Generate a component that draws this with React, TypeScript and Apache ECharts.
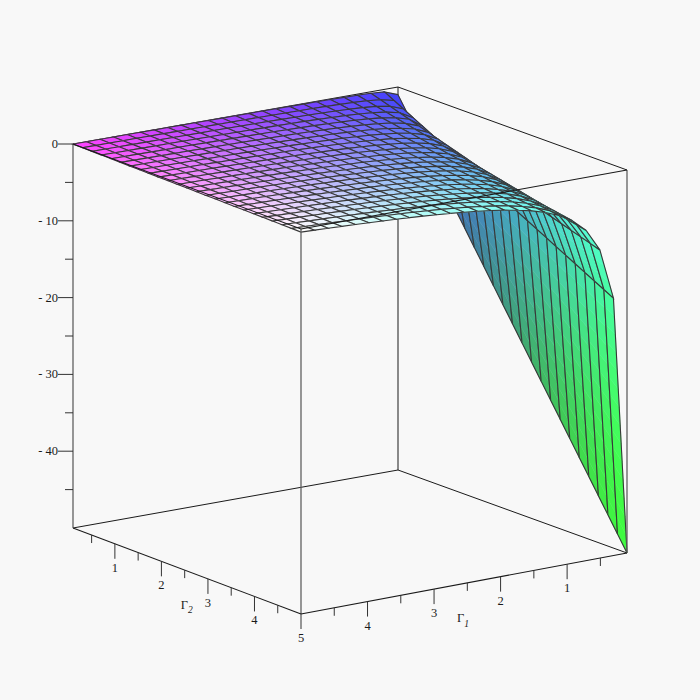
import React, { useEffect, useRef } from "react";
import * as echarts from "echarts";

// Axis parameter samples (both axes share the same mesh)
const gamma1Values = [0.1,0.304,0.508,0.712,0.917,1.121,1.325,1.529,1.733,1.938,2.142,2.346,2.55,2.754,2.958,3.163,3.367,3.571,3.775,3.979,4.183,4.388,4.592,4.796,5];
const gamma2Values = [0.1,0.304,0.508,0.712,0.917,1.121,1.325,1.529,1.733,1.938,2.142,2.346,2.55,2.754,2.958,3.163,3.367,3.571,3.775,3.979,4.183,4.388,4.592,4.796,5];

// Surface height: one row per Γ1 sample, one value per Γ2 sample
const row00 = [-1,-3.04,-5.08,-7.12,-9.17,-11.21,-13.25,-15.29,-17.33,-19.38,-21.42,-23.46,-25.5,-27.54,-29.58,-31.63,-33.67,-35.71,-37.75,-39.79,-41.83,-43.88,-45.92,-47.96,-50];
const row01 = [-.33,-1,-1.67,-2.34,-3.01,-3.68,-4.35,-5.02,-5.68,-6.36,-7.03,-7.69,-8.36,-9.03,-9.7,-10.37,-11.04,-11.71,-12.38,-13.05,-13.72,-14.39,-15.06,-15.73,-16.4];
const row02 = [-.2,-.59,-.99,-1.39,-1.79,-2.19,-2.59,-2.99,-3.39,-3.79,-4.19,-4.59,-4.99,-5.39,-5.79,-6.19,-6.59,-6.99,-7.39,-7.79,-8.19,-8.59,-8.99,-9.39,-9.79];
const row03 = [-.14,-.42,-.7,-.99,-1.27,-1.55,-1.84,-2.12,-2.4,-2.69,-2.97,-3.25,-3.54,-3.82,-4.1,-4.39,-4.67,-4.95,-5.24,-5.52,-5.8,-6.09,-6.37,-6.65,-6.94];
const row04 = [-.11,-.32,-.54,-.76,-.98,-1.2,-1.42,-1.63,-1.85,-2.07,-2.29,-2.51,-2.73,-2.94,-3.16,-3.38,-3.6,-3.82,-4.04,-4.25,-4.47,-4.69,-4.91,-5.13,-5.35];
const row05 = [-.09,-.26,-.44,-.62,-.79,-.97,-1.15,-1.32,-1.5,-1.68,-1.85,-2.03,-2.21,-2.38,-2.56,-2.74,-2.91,-3.09,-3.27,-3.44,-3.62,-3.8,-3.97,-4.15,-4.33];
const row06 = [-.07,-.22,-.37,-.51,-.66,-.81,-.96,-1.11,-1.25,-1.4,-1.55,-1.7,-1.84,-1.99,-2.14,-2.29,-2.43,-2.58,-2.73,-2.88,-3.02,-3.17,-3.32,-3.47,-3.62];
const row07 = [-.06,-.19,-.31,-.44,-.57,-.69,-.82,-.94,-1.07,-1.2,-1.32,-1.45,-1.57,-1.7,-1.83,-1.95,-2.08,-2.2,-2.33,-2.46,-2.58,-2.71,-2.83,-2.96,-3.09];
const row08 = [-.05,-.16,-.27,-.38,-.49,-.6,-.71,-.82,-.93,-1.04,-1.15,-1.26,-1.36,-1.47,-1.58,-1.69,-1.8,-1.91,-2.02,-2.13,-2.24,-2.35,-2.46,-2.57,-2.68];
const row09 = [-.05,-.14,-.24,-.33,-.43,-.53,-.62,-.72,-.81,-.91,-1,-1.1,-1.2,-1.29,-1.39,-1.48,-1.58,-1.67,-1.77,-1.87,-1.96,-2.06,-2.15,-2.25,-2.35];
const row10 = [-.04,-.13,-.21,-.3,-.38,-.47,-.55,-.64,-.72,-.81,-.89,-.98,-1.06,-1.15,-1.23,-1.32,-1.4,-1.49,-1.57,-1.66,-1.74,-1.83,-1.91,-2,-2.08];
const row11 = [-.04,-.11,-.19,-.26,-.34,-.41,-.49,-.57,-.64,-.72,-.79,-.87,-.94,-1.02,-1.09,-1.17,-1.25,-1.32,-1.4,-1.47,-1.55,-1.62,-1.7,-1.77,-1.85];
const row12 = [-.03,-.1,-.17,-.24,-.3,-.37,-.44,-.51,-.57,-.64,-.71,-.78,-.84,-.91,-.98,-1.05,-1.11,-1.18,-1.25,-1.32,-1.38,-1.45,-1.52,-1.59,-1.66];
const row13 = [-.03,-.09,-.15,-.21,-.27,-.33,-.39,-.45,-.51,-.58,-.64,-.7,-.76,-.82,-.88,-.94,-1,-1.06,-1.12,-1.18,-1.24,-1.3,-1.36,-1.42,-1.49];
const row14 = [-.03,-.08,-.14,-.19,-.24,-.3,-.35,-.41,-.46,-.52,-.57,-.63,-.68,-.74,-.79,-.84,-.9,-.95,-1.01,-1.06,-1.12,-1.17,-1.23,-1.28,-1.34];
const row15 = [-.02,-.07,-.12,-.17,-.22,-.27,-.32,-.37,-.42,-.47,-.51,-.56,-.61,-.66,-.71,-.76,-.81,-.86,-.91,-.95,-1,-1.05,-1.1,-1.15,-1.2];
const row16 = [-.02,-.07,-.11,-.15,-.2,-.24,-.29,-.33,-.37,-.42,-.46,-.51,-.55,-.59,-.64,-.68,-.73,-.77,-.82,-.86,-.9,-.95,-.99,-1.04,-1.08];
const row17 = [-.02,-.06,-.1,-.14,-.18,-.22,-.26,-.3,-.34,-.38,-.42,-.46,-.49,-.53,-.57,-.61,-.65,-.69,-.73,-.77,-.81,-.85,-.89,-.93,-.97];
const row18 = [-.02,-.05,-.09,-.12,-.16,-.2,-.23,-.27,-.3,-.34,-.37,-.41,-.44,-.48,-.51,-.55,-.59,-.62,-.66,-.69,-.73,-.76,-.8,-.83,-.87];
const row19 = [-.02,-.05,-.08,-.11,-.14,-.17,-.21,-.24,-.27,-.3,-.33,-.37,-.4,-.43,-.46,-.49,-.53,-.56,-.59,-.62,-.65,-.68,-.72,-.75,-.78];
const row20 = [-.01,-.04,-.07,-.1,-.13,-.16,-.18,-.21,-.24,-.27,-.3,-.33,-.35,-.38,-.41,-.44,-.47,-.5,-.52,-.55,-.58,-.61,-.64,-.67,-.7];
const row21 = [-.01,-.04,-.06,-.09,-.11,-.14,-.16,-.19,-.21,-.24,-.26,-.29,-.31,-.34,-.36,-.39,-.41,-.44,-.46,-.49,-.51,-.54,-.56,-.59,-.62];
const row22 = [-.01,-.03,-.05,-.08,-.1,-.12,-.14,-.17,-.19,-.21,-.23,-.25,-.28,-.3,-.32,-.34,-.36,-.39,-.41,-.43,-.45,-.47,-.5,-.52,-.54];
const row23 = [-.01,-.03,-.05,-.07,-.09,-.11,-.12,-.14,-.16,-.18,-.2,-.22,-.24,-.26,-.28,-.3,-.32,-.34,-.35,-.37,-.39,-.41,-.43,-.45,-.47];
const row24 = [-.01,-.02,-.04,-.06,-.07,-.09,-.11,-.12,-.14,-.16,-.17,-.19,-.2,-.22,-.24,-.25,-.27,-.29,-.3,-.32,-.33,-.35,-.37,-.38,-.4];
const heights = [row00,row01,row02,row03,row04,row05,row06,row07,row08,row09,row10,row11,row12,row13,row14,row15,row16,row17,row18,row19,row20,row21,row22,row23,row24];

// Tick values
const zMajorTicks = [0, -10, -20, -30, -40];
const zTickLabels = ["0", "- 10", "- 20", "- 30", "- 40"];
const zMinorTicks = [-5, -15, -25, -35, -45];
const gammaMajorTicks = [1, 2, 3, 4, 5];
const gammaMinorTicks = [0.5, 1.5, 2.5, 3.5, 4.5];
const gamma1MajorTicks = [1, 2, 3, 4];
const gamma1MinorTicks = [0.5, 1.5, 2.5, 3.5, 4.5];

// Domain of the box
const G_MIN = 0.1, G_MAX = 5, Z_MIN = -50, Z_MAX = 0;

// View of the box: where the eight corners of the box fall in the page
const VIEW = {
  backTop: [398, 87], backBot: [398, 470],
  leftTop: [73, 144], leftBot: [73, 528],
  frontTop: [301, 229], frontBot: [301, 614],
  rightTop: [627, 170], rightBot: [627, 553],
};

const lerp = (p: number[], q: number[], t: number) => [p[0] + (q[0] - p[0]) * t, p[1] + (q[1] - p[1]) * t];

function project(g1: number, g2: number, z: number) {
  const a = (g1 - G_MIN) / (G_MAX - G_MIN);
  const b = (g2 - G_MIN) / (G_MAX - G_MIN);
  const c = (Z_MAX - z) / (Z_MAX - Z_MIN);
  const top = lerp(lerp(VIEW.backTop, VIEW.leftTop, a), lerp(VIEW.rightTop, VIEW.frontTop, a), b);
  const bot = lerp(lerp(VIEW.backBot, VIEW.leftBot, a), lerp(VIEW.rightBot, VIEW.frontBot, a), b);
  return lerp(top, bot, c);
}

const COLOUR_FLOOR = 0.25;

function colourAt(g1: number, g2: number, z: number) {
  const r = (g1 - G_MIN) / (G_MAX - G_MIN);
  const g = (g2 - G_MIN) / (G_MAX - G_MIN);
  const b = Math.pow((z - Z_MIN) / (Z_MAX - Z_MIN), 1.7);
  const ch = (v: number) => Math.round((COLOUR_FLOOR + (1 - COLOUR_FLOOR) * Math.max(0, Math.min(1, v))) * 255);
  return `rgb(${ch(r)},${ch(g)},${ch(b)})`;
}

const SERIF = '"Liberation Serif", "Times New Roman", serif';

const cells: number[][] = [];
for (let i = 0; i < gamma1Values.length - 1; i++) {
  for (let j = 0; j < gamma2Values.length - 1; j++) cells.push([i, j]);
}

type Pt3 = [number, number, number];
const THIN = "#1a1a1a";
const GREY = "#606060";

const backEdges: [Pt3, Pt3][] = [
  [[G_MIN, G_MIN, Z_MAX], [G_MIN, G_MIN, Z_MIN]],
  [[G_MAX, G_MIN, Z_MAX], [G_MIN, G_MIN, Z_MAX]],
  [[G_MIN, G_MIN, Z_MAX], [G_MIN, G_MAX, Z_MAX]],
  [[G_MAX, G_MIN, Z_MIN], [G_MIN, G_MIN, Z_MIN]],
  [[G_MIN, G_MIN, Z_MIN], [G_MIN, G_MAX, Z_MIN]],
];
const frontEdges: [Pt3, Pt3, string, number][] = [
  [[G_MAX, G_MIN, Z_MAX], [G_MAX, G_MIN, Z_MIN], GREY, 1.3],
  [[G_MAX, G_MAX, Z_MAX], [G_MAX, G_MAX, Z_MIN], GREY, 1.3],
  [[G_MIN, G_MAX, Z_MAX], [G_MIN, G_MAX, Z_MIN], GREY, 1.3],
  [[G_MAX, G_MIN, Z_MAX], [G_MAX, G_MAX, Z_MAX], THIN, 1.1],
  [[G_MAX, G_MAX, Z_MAX], [G_MIN, G_MAX, Z_MAX], THIN, 1.1],
  [[G_MAX, G_MIN, Z_MIN], [G_MAX, G_MAX, Z_MIN], THIN, 1.1],
  [[G_MAX, G_MAX, Z_MIN], [G_MIN, G_MAX, Z_MIN], THIN, 1.1],
];

function customSeries<T>(items: T[], z: number, build: (item: T, api: any) => any) {
  return {
    type: "custom",
    coordinateSystem: "cartesian2d",
    z,
    silent: true,
    clip: false,
    data: items.map(() => [0, 0]),
    renderItem: (params: any, api: any) => build(items[params.dataIndex], api),
  };
}

const px = (api: any, p: number[]) => api.coord(p);

function lineEl(api: any, p: number[], q: number[], stroke: string, lineWidth: number) {
  const a = px(api, p), b = px(api, q);
  return { type: "line", shape: { x1: a[0], y1: a[1], x2: b[0], y2: b[1] }, style: { stroke, lineWidth } };
}

function textEl(api: any, p: number[], dx: number, dy: number, text: string, size: number, align: string, italic = false) {
  const a = px(api, p);
  return {
    type: "text",
    style: {
      text,
      x: a[0] + dx,
      y: a[1] + dy,
      fill: "#1a1a1a",
      font: `${italic ? "italic " : ""}${size}px ${SERIF}`,
      textAlign: align,
      textVerticalAlign: "middle",
    },
  };
}

function cellEl(cell: number[], api: any) {
  const [i, j] = cell;
  const g10 = gamma1Values[i], g11 = gamma1Values[i + 1];
  const g20 = gamma2Values[j], g21 = gamma2Values[j + 1];
  const z00 = heights[i][j], z01 = heights[i][j + 1], z10 = heights[i + 1][j], z11 = heights[i + 1][j + 1];
  const steps = Math.min(14, Math.max(1, Math.ceil(Math.max(Math.abs(z10 - z00), Math.abs(z11 - z01)) / 2.5)));
  const children: any[] = [];
  for (let s = 0; s < steps; s++) {
    const t0 = s / steps, t1 = (s + 1) / steps, tm = (s + 0.5) / steps;
    const gA = g10 + (g11 - g10) * t0, gB = g10 + (g11 - g10) * t1, gM = g10 + (g11 - g10) * tm;
    const zA0 = z00 + (z10 - z00) * t0, zB0 = z00 + (z10 - z00) * t1;
    const zA1 = z01 + (z11 - z01) * t0, zB1 = z01 + (z11 - z01) * t1;
    const fill = colourAt(gM, (g20 + g21) / 2, (zA0 + zB0 + zA1 + zB1) / 4);
    children.push({
      type: "polygon",
      shape: { points: [project(gA, g20, zA0), project(gB, g20, zB0), project(gB, g21, zB1), project(gA, g21, zA1)].map((p) => px(api, p)) },
      style: { fill, stroke: fill, lineWidth: 0.5 },
    });
  }
  children.push({
    type: "polygon",
    shape: { points: [project(g10, g20, z00), project(g11, g20, z10), project(g11, g21, z11), project(g10, g21, z01)].map((p) => px(api, p)) },
    style: { fill: "none", stroke: "#383838", lineWidth: 1.1 },
  });
  return { type: "group", children };
}

export default function App() {
  const ref = useRef<HTMLDivElement>(null);
  useEffect(() => {
    document.body.style.margin = "0";
    const chart = echarts.init(ref.current!, undefined, { renderer: "svg" });
    chart.setOption({
      animation: false,
      backgroundColor: "#f8f8f8",
      grid: { left: 0, right: 0, top: 0, bottom: 0 },
      xAxis: { type: "value", min: 0, max: 700, show: false },
      yAxis: { type: "value", min: 0, max: 700, inverse: true, show: false },
      series: [
        customSeries(backEdges, 1, (e, api) => lineEl(api, project(...e[0]), project(...e[1]), THIN, 1)),
        customSeries(cells, 2, cellEl),
        customSeries(frontEdges, 3, (e, api) => lineEl(api, project(...e[0]), project(...e[1]), e[2], e[3])),
        customSeries(zMajorTicks, 4, (v, api) => {
          const p = project(G_MAX, G_MIN, v);
          return {
            type: "group",
            children: [
              lineEl(api, [p[0] - 15, p[1]], p, "#333", 1),
              textEl(api, p, -15, 0, zTickLabels[zMajorTicks.indexOf(v)], 12.5, "right"),
            ],
          };
        }),
        customSeries(zMinorTicks, 4, (v, api) => {
          const p = project(G_MAX, G_MIN, v);
          return lineEl(api, [p[0] - 8, p[1]], p, "#333", 1);
        }),
        customSeries(gammaMajorTicks, 4, (v, api) => {
          const p = project(G_MAX, v, Z_MIN);
          return {
            type: "group",
            children: [
              lineEl(api, p, [p[0], p[1] + 15], "#333", 1),
              textEl(api, p, 0, 24, String(v), 12.5, "center"),
            ],
          };
        }),
        customSeries(gammaMinorTicks, 4, (v, api) => {
          const p = project(G_MAX, v, Z_MIN);
          return lineEl(api, p, [p[0], p[1] + 8], "#333", 1);
        }),
        customSeries(gamma1MajorTicks, 4, (v, api) => {
          const p = project(v, G_MAX, Z_MIN);
          return {
            type: "group",
            children: [
              lineEl(api, p, [p[0], p[1] + 15], "#333", 1),
              textEl(api, p, 0, 24, String(v), 12.5, "center"),
            ],
          };
        }),
        customSeries(gamma1MinorTicks, 4, (v, api) => {
          const p = project(v, G_MAX, Z_MIN);
          return lineEl(api, p, [p[0], p[1] + 8], "#333", 1);
        }),
        customSeries([2.6], 4, (v, api) => {
          const p = project(G_MAX, v, Z_MIN);
          return {
            type: "group",
            children: [
              textEl(api, p, -5, 33, "Γ", 12.5, "center"),
              textEl(api, p, 1, 38, "2", 9.5, "center", true),
            ],
          };
        }),
        customSeries([2.6], 4, (v, api) => {
          const p = project(v, G_MAX, Z_MIN);
          return {
            type: "group",
            children: [
              textEl(api, p, 0, 34, "Γ", 12.5, "center"),
              textEl(api, p, 6, 40, "1", 9.5, "center", true),
            ],
          };
        }),
      ],
    });
    return () => chart.dispose();
  }, []);
  return <div ref={ref} style={{ width: 700, height: 700 }} />;
}
